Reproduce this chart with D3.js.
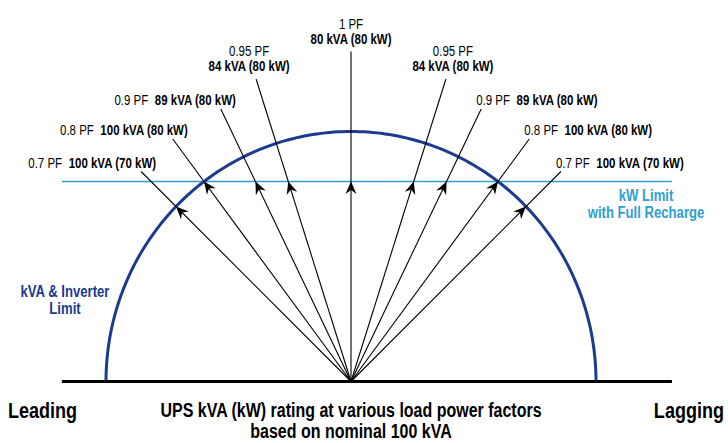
<!DOCTYPE html>
<html><head><meta charset="utf-8">
<script src="https://cdn.jsdelivr.net/npm/d3@7/dist/d3.min.js"></script>
<style>
body{margin:0;background:#fff}
text{font-family:'Liberation Sans Narrow','Liberation Sans',Arial,sans-serif}
</style>
</head><body>
<svg id="chart" width="728" height="443"></svg>
<script>
// ---- data ----
const pfLabels     = ["0.7 PF","0.8 PF","0.9 PF","0.95 PF","1 PF","0.95 PF","0.9 PF","0.8 PF","0.7 PF"];
const powerFactors = [0.7, 0.8, 0.9, 0.95, 1, 0.95, 0.9, 0.8, 0.7];
const kvaValues    = [100, 100, 89, 84, 80, 84, 89, 100, 100];
const kwValues     = [70, 80, 80, 80, 80, 80, 80, 80, 70];
const loadSide     = [-1, -1, -1, -1, 0, 1, 1, 1, 1];   // -1 leading, +1 lagging
const ratingLabels = kvaValues.map((v,i) => `${v} kVA (${kwValues[i]} kW)`);
const leaderReachKW = [84, 97, 109, 121, 132, 121, 109, 97, 84]; // where leaders end (kW level)
const nominalKVA = 100;
const kwLimit = 80;
const axisExtent = [-118, 131];

const darkBlue = "#1c3a8f", lightBlue = "#2e9fd1";
const narrow = 0.82; // horizontal condensing of text

const svg = d3.select("#chart");
const cx = 351, baseY = 381.5;
const x = d3.scaleLinear().domain([-100, 100]).range([cx - 245, cx + 245]);
const y = d3.scaleLinear().domain([0, 100]).range([baseY, baseY - 250]);

// helper: condensed text at (tx,ty)
function label(tx, ty, anchor, size, fill) {
  return svg.append("text")
    .attr("transform", `translate(${tx},${ty}) scale(${narrow},1)`)
    .attr("text-anchor", anchor).attr("font-size", size).attr("fill", fill || "#000");
}

// kW limit line
svg.append("line")
  .attr("x1", x(axisExtent[0])).attr("x2", x(axisExtent[1]))
  .attr("y1", y(kwLimit)).attr("y2", y(kwLimit))
  .attr("stroke", lightBlue).attr("stroke-width", 1.4);

// kVA semicircle
const angles = d3.range(0, 181, 1).map(d => d * Math.PI / 180);
svg.append("path")
  .datum(angles)
  .attr("d", d3.line().x(a => x(-nominalKVA * Math.cos(a))).y(a => y(nominalKVA * Math.sin(a))))
  .attr("fill", "none").attr("stroke", darkBlue).attr("stroke-width", 3);

// vectors
const vec = powerFactors.map((pf, i) => {
  const kw = kwValues[i];
  const kvar = loadSide[i] * Math.sqrt(Math.max(0, kvaValues[i] ** 2 - kw ** 2));
  const ratio = kvar / kw;
  const reach = leaderReachKW[i];
  return {i, kw, kvar, endX: ratio * reach, endY: reach};
});

svg.selectAll("line.leader").data(vec).join("line")
  .attr("class", "leader")
  .attr("x1", x(0)).attr("y1", y(0))
  .attr("x2", d => x(d.endX)).attr("y2", d => y(d.endY))
  .attr("stroke", "#000").attr("stroke-width", 1.1);

svg.selectAll("path.head").data(vec).join("path")
  .attr("class", "head")
  .attr("d", "M0,0 L-12.5,-5.5 L-8.5,0 L-12.5,5.5 Z")
  .attr("fill", "#000")
  .attr("transform", d => {
    const px = x(d.kvar), py = y(d.kw);
    const ang = Math.atan2(py - y(0), px - x(0)) * 180 / Math.PI;
    return `translate(${px},${py}) rotate(${ang})`;
  });

// baseline
svg.append("line")
  .attr("x1", x(axisExtent[0])).attr("x2", x(axisExtent[1]))
  .attr("y1", y(0)).attr("y2", y(0))
  .attr("stroke", "#000").attr("stroke-width", 3);

// labels
vec.forEach(d => {
  const ex = x(d.endX), ey = y(d.endY);
  const side = loadSide[d.i];
  const pfL = pfLabels[d.i], rl = ratingLabels[d.i];
  if (powerFactors[d.i] >= 0.95) {
    const lx = side === 0 ? ex : ex + side * 7;
    label(lx, ey - 23, "middle", 14).text(pfL);
    label(lx, ey - 8, "middle", 14).attr("font-weight", "bold").text(rl);
  } else {
    const t = side < 0 ? label(ex + 15, ey - 4, "end", 14) : label(ex - 5, ey - 4, "start", 14);
    t.append("tspan").text(pfL);
    t.append("tspan").attr("dx", 8).attr("font-weight", "bold").text(rl);
  }
});

// annotations
label(646, 201, "middle", 16, lightBlue).attr("font-weight", "bold").text("kW Limit");
label(646, 218, "middle", 16, lightBlue).attr("font-weight", "bold").text("with Full Recharge");

label(65, 297, "middle", 16, darkBlue).attr("font-weight", "bold").text("kVA & Inverter");
label(65, 314, "middle", 16, darkBlue).attr("font-weight", "bold").text("Limit");

label(8, 418, "start", 22).attr("font-weight", "bold").text("Leading");
label(724, 418, "end", 22).attr("font-weight", "bold").text("Lagging");

label(351, 417, "middle", 19.5).attr("font-weight", "bold").text("UPS kVA (kW) rating at various load power factors");
label(351, 438, "middle", 19.5).attr("font-weight", "bold").text("based on nominal 100 kVA");
</script>
</body></html>
